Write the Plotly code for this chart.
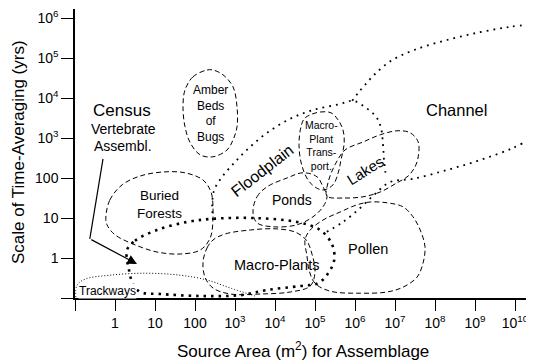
import plotly.graph_objects as go

# All coordinates in decades: log10(source area, m^2) and log10(time-averaging, yrs)
x_tickvals = [-1, 0, 1, 2, 3, 4, 5, 6, 7, 8, 9, 10]
x_ticktext = ["", "1", "10", "100", "10<sup>3</sup>", "10<sup>4</sup>", "10<sup>5</sup>",
              "10<sup>6</sup>", "10<sup>7</sup>", "10<sup>8</sup>", "10<sup>9</sup>", "10<sup>10</sup>"]
y_tickvals = [-1, 0, 1, 2, 3, 4, 5, 6]
y_ticktext = ["", "1", "10", "100", "10<sup>3</sup>", "10<sup>4</sup>", "10<sup>5</sup>", "10<sup>6</sup>"]

amber_x = [2.3, 1.95, 1.75, 1.7, 1.75, 1.88, 2.13, 2.45, 2.8, 2.95, 3.05, 3.05, 2.95, 2.7, 2.45]
amber_y = [4.7, 4.53, 4.2, 3.78, 3.28, 2.88, 2.58, 2.53, 2.7, 2.95, 3.28, 3.78, 4.28, 4.58, 4.7]

buried_x = [-0.23, -0.13, 0.18, 0.63, 1.2, 1.75, 2.2, 2.4, 2.45, 2.38, 2.13, 1.63, 1.05, 0.5, 0.0, -0.2]
buried_y = [1.0, 1.45, 1.83, 2.05, 2.15, 2.13, 1.95, 1.65, 1.08, 0.5, 0.2, 0.1, 0.15, 0.33, 0.58, 0.83]

macroplants_x = [2.2, 2.3, 2.45, 2.75, 3.38, 4.0, 4.5, 4.78, 4.93, 5.0, 4.88, 4.38, 3.63, 2.88, 2.45, 2.25]
macroplants_y = [-0.1, 0.25, 0.45, 0.6, 0.7, 0.73, 0.65, 0.45, 0.08, -0.35, -0.7, -0.85, -0.9, -0.9, -0.75, -0.48]

ponds_x = [3.45, 3.55, 3.8, 4.3, 4.7, 5.05, 5.2, 5.3, 5.2, 4.95, 4.55, 3.95, 3.55]
ponds_y = [1.15, 1.53, 1.78, 2.0, 2.13, 2.03, 1.78, 1.53, 1.28, 1.03, 0.83, 0.78, 0.88]

transport_x = [4.88, 5.13, 5.4, 5.58, 5.7, 5.73, 5.65, 5.58, 5.45, 5.18, 4.88, 4.68, 4.6, 4.65, 4.73]
transport_y = [3.58, 3.65, 3.63, 3.45, 3.2, 2.88, 2.45, 2.13, 1.83, 1.7, 1.88, 2.28, 2.83, 3.28, 3.48]

lakes_x = [5.3, 5.75, 6.2, 6.63, 7.05, 7.33, 7.5, 7.58, 7.58, 7.38, 7.05, 6.63, 6.2, 5.75, 5.5, 5.33]
lakes_y = [1.55, 1.5, 1.53, 1.65, 1.88, 2.05, 2.28, 2.53, 2.9, 3.13, 3.18, 3.08, 2.9, 2.7, 2.33, 1.9]

pollen_x = [4.75, 4.8, 4.85, 5.0, 5.38, 6.13, 6.8, 7.2, 7.55, 7.7, 7.75, 7.63, 7.45, 7.2, 6.8, 6.38, 6.05, 5.63, 5.2, 4.88]
pollen_y = [0.45, 0.05, -0.3, -0.63, -0.83, -0.88, -0.85, -0.73, -0.48, -0.13, 0.28, 0.7, 1.03, 1.28, 1.38, 1.4, 1.33, 1.15, 0.95, 0.7]

census_x = [0.3, 0.5, 1.05, 1.8, 2.45, 3.45, 4.55, 5.13, 5.43, 5.48, 5.33, 5.08, 4.63, 3.8, 3.13, 2.13, 1.13, 0.63, 0.45, 0.35]
census_y = [0.2, 0.43, 0.7, 0.9, 0.98, 1.0, 0.9, 0.7, 0.33, -0.05, -0.38, -0.63, -0.7, -0.8, -0.93, -0.95, -0.9, -0.85, -0.65, -0.3]

flood_x = [2.45, 2.43, 2.48, 2.68, 3.0, 3.38, 3.83, 4.38, 4.95, 5.63, 5.95, 6.28, 6.53, 6.65, 6.7, 6.73, 6.78]
flood_y = [0.95, 1.33, 1.7, 2.03, 2.4, 2.78, 3.15, 3.48, 3.7, 3.85, 3.93, 3.75, 3.53, 3.25, 2.83, 2.4, 2.0]

chan_up_x = [5.93, 6.08, 6.25, 6.5, 6.9, 7.48, 8.3, 9.15, 9.88, 10.48]
chan_up_y = [3.93, 4.13, 4.33, 4.6, 4.93, 5.2, 5.45, 5.65, 5.78, 5.85]

chan_lo_x = [10.48, 9.95, 9.13, 8.3, 7.45, 6.88, 6.5, 6.13, 5.7, 5.25]
chan_lo_y = [3.03, 2.75, 2.45, 2.2, 1.98, 1.9, 1.6, 1.25, 0.9, 0.63]

track_x = [-0.98, -0.95, -0.75, -0.13, 0.75, 1.63, 2.3, 2.88, 3.5]
track_y = [-0.98, -0.68, -0.53, -0.43, -0.38, -0.43, -0.55, -0.75, -0.95]

arrow_x = [-0.3, -0.63, 0.55]
arrow_y = [2.48, 0.48, -0.15]

FONT = "Liberation Sans, Arial, Helvetica, sans-serif"


def closed(xs, ys):
    return xs + xs[:1], ys + ys[:1]


fig = go.Figure()

dashed = dict(color="black", width=1, dash="5px,3px")
for xs, ys in [(amber_x, amber_y), (buried_x, buried_y), (macroplants_x, macroplants_y),
               (ponds_x, ponds_y), (transport_x, transport_y), (lakes_x, lakes_y),
               (pollen_x, pollen_y)]:
    cx, cy = closed(xs, ys)
    fig.add_trace(go.Scatter(x=cx, y=cy, mode="lines", line=dict(shape="spline", smoothing=1.0, **dashed),
                             hoverinfo="skip", showlegend=False))

cx, cy = closed(census_x, census_y)
fig.add_trace(go.Scatter(x=cx, y=cy, mode="lines",
                         line=dict(shape="spline", smoothing=1.0, color="black", width=2.6, dash="2.5px,5px"),
                         hoverinfo="skip", showlegend=False))

for xs, ys in [(flood_x, flood_y), (chan_up_x, chan_up_y), (chan_lo_x, chan_lo_y)]:
    fig.add_trace(go.Scatter(x=xs, y=ys, mode="lines",
                             line=dict(shape="spline", smoothing=1.0, color="black", width=1.8, dash="1.8px,5px"),
                             hoverinfo="skip", showlegend=False))

fig.add_trace(go.Scatter(x=track_x, y=track_y, mode="lines",
                         line=dict(shape="spline", smoothing=1.0, color="black", width=1, dash="1px,2px"),
                         hoverinfo="skip", showlegend=False))

fig.add_trace(go.Scatter(x=arrow_x[:2], y=arrow_y[:2], mode="lines",
                         line=dict(color="black", width=1.2),
                         hoverinfo="skip", showlegend=False))

fig.add_annotation(x=arrow_x[2], y=arrow_y[2], ax=arrow_x[1], ay=arrow_y[1],
                   xref="x", yref="y", axref="x", ayref="y", text="", showarrow=True,
                   arrowhead=2, arrowsize=1.6, arrowwidth=1.2, arrowcolor="black")

labels = [
    ("Census", 0.18, 3.7, 17, 0),
    ("Vertebrate", 0.2, 3.23, 14, 0),
    ("Assembl.", 0.2, 2.8, 14, 0),
    ("Amber<br>Beds<br>of<br>Bugs", 2.38, 3.62, 12, 0),
    ("Buried<br>Forests", 1.1, 1.35, 13.5, 0),
    ("Floodplain", 3.68, 2.2, 16, -38),
    ("Macro-<br>Plant<br>Trans-<br>port.", 5.15, 2.82, 10.5, 0),
    ("Lakes", 6.25, 2.2, 15, -32),
    ("Ponds", 4.43, 1.45, 14, 0),
    ("Macro-Plants", 4.03, -0.18, 14.5, 0),
    ("Pollen", 6.33, 0.22, 14.5, 0),
    ("Channel", 8.53, 3.7, 16.5, 0),
]
for text, x, y, size, ang in labels:
    fig.add_annotation(x=x, y=y, xref="x", yref="y", text=text, showarrow=False,
                       textangle=ang, font=dict(family=FONT, size=size, color="black"))

fig.add_annotation(x=-0.2, y=-0.83, xref="x", yref="y", text="Trackways", showarrow=False,
                   bgcolor="white", borderpad=0, font=dict(family=FONT, size=12, color="black"))

# axis titles
fig.add_annotation(x=(18 - 75) / 459, y=(298 - 152) / 289, xref="paper", yref="paper",
                   xanchor="center", yanchor="middle",
                   text="Scale of Time-Averaging (yrs)", textangle=-90, showarrow=False,
                   font=dict(family=FONT, size=17, color="black"))
fig.add_annotation(x=(303 - 75) / 459, y=(298 - 350) / 289, xref="paper", yref="paper",
                   xanchor="center", yanchor="middle",
                   text="Source Area (m<sup>2</sup>) for Assemblage", showarrow=False,
                   font=dict(family=FONT, size=17, color="black"))

# The page body has an 8px default margin, so the figure is sized to fit the 534x364 window.
fig.update_layout(
    width=526, height=356,
    margin=dict(l=67, r=0, t=1, b=66),
    paper_bgcolor="white", plot_bgcolor="white",
    showlegend=False,
    xaxis=dict(range=[-1, 10.475], tickvals=x_tickvals, ticktext=x_ticktext, automargin=False,
               showgrid=False, zeroline=False, showline=True, linecolor="black", linewidth=1.5,
               ticks="outside", ticklen=11, tickwidth=1.2, tickcolor="black",
               tickfont=dict(family=FONT, size=14, color="black")),
    yaxis=dict(range=[-1, 6.225], tickvals=y_tickvals, ticktext=y_ticktext, automargin=False,
               showgrid=False, zeroline=False, showline=True, linecolor="black", linewidth=1.5,
               ticks="outside", ticklen=12, tickwidth=1.2, tickcolor="black",
               tickfont=dict(family=FONT, size=14, color="black")),
)

fig.write_html("out.html")
